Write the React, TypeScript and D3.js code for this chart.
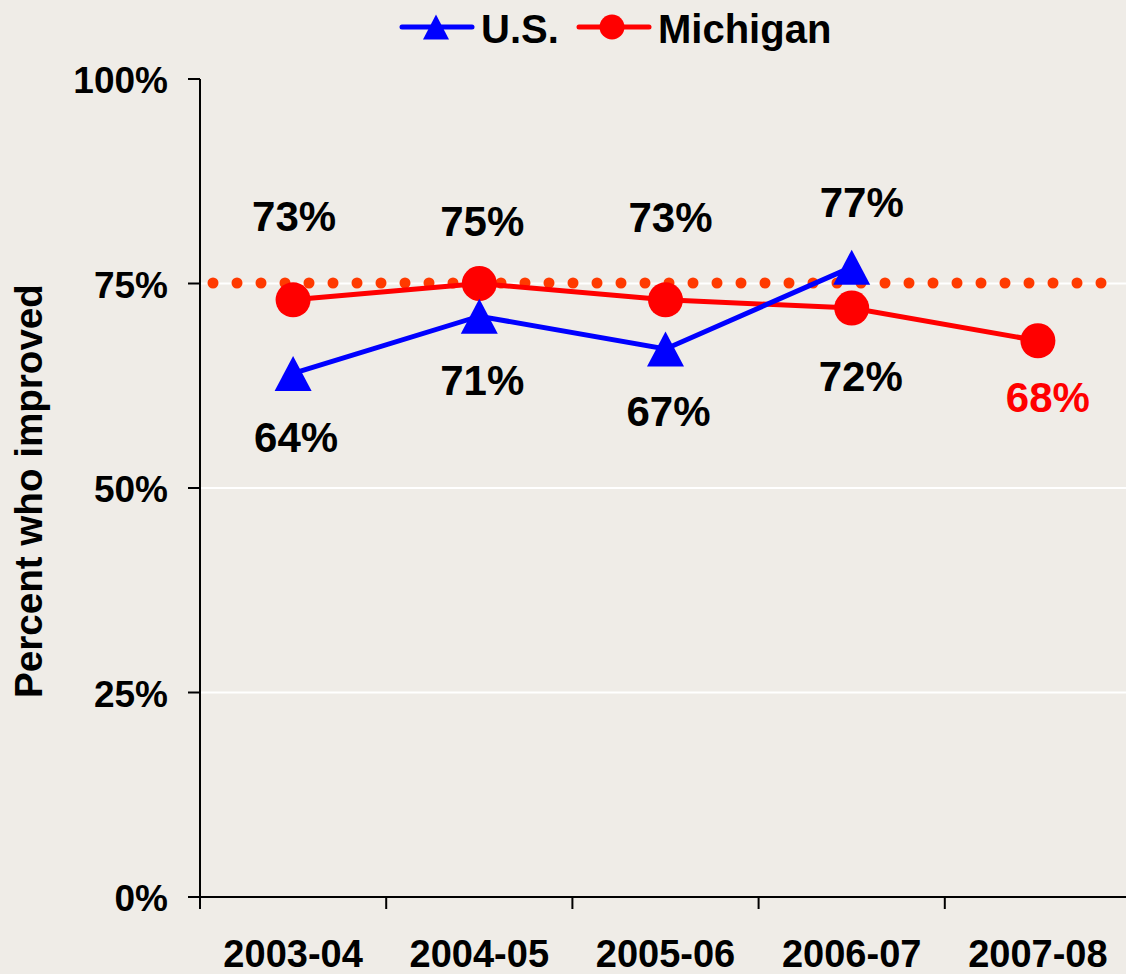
import React from "react";
import * as d3 from "d3";

const categories = ["2003-04", "2004-05", "2005-06", "2006-07", "2007-08"];
const usValues = [64, 71, 67, 77];
const michiganValues = [73, 75, 73, 72, 68];
const targetValue = 75;
const yTicks = [0, 25, 50, 75, 100];
// label vertical offsets from point (px)
const usLabelDy = [79, 79, 77, -50];
const miLabelDy = [-69, -48, -68, 83, 71];
const miLabelDx = [1, 3, 5, 9, 10];
const usLabelDx = [3, 3, 3, 10];

const W = 1126;
const H = 974;
const FONT = "'Liberation Sans', Arial, Helvetica, sans-serif";
const BG = "#EFECE7";
const BLUE = "#0000FF";
const RED = "#FF0000";
const DOT = "#FF3A00";

export default function App() {
  const x = d3.scaleBand<string>().domain(categories).range([200, 1131]).padding(0);
  const y = d3.scaleLinear().domain([0, 100]).range([897, 79]);
  const cx = (i: number) => (x(categories[i]) as number) + x.bandwidth() / 2;

  const line = d3
    .line<number>()
    .x((_, i) => cx(i))
    .y((d) => y(d));

  const tri = (px: number, py: number, w: number, h: number) =>
    `M${px},${py - h / 2}L${px + w / 2},${py + h / 2}L${px - w / 2},${py + h / 2}Z`;

  return (
    <svg
      width={W}
      height={H}
      style={{ position: "absolute", left: 0, top: 0, background: BG }}
      fontFamily={FONT}
    >
      <rect x={0} y={0} width={W} height={H} fill={BG} />
      {/* gridlines */}
      {yTicks
        .filter((t) => t > 0 && t < 100)
        .map((t) => (
          <line key={"g" + t} x1={200} x2={W} y1={y(t)} y2={y(t)} stroke="#FFFFFF" strokeWidth={2} />
        ))}
      {/* axes */}
      <line x1={200} x2={200} y1={y(100)} y2={y(0)} stroke="#000" strokeWidth={2} />
      <line x1={188} x2={W} y1={y(0)} y2={y(0)} stroke="#000" strokeWidth={2} />
      {yTicks.map((t) => (
        <g key={"yt" + t}>
          <line x1={188} x2={200} y1={y(t)} y2={y(t)} stroke="#000" strokeWidth={2} />
          <text x={168} y={y(t) + 14} textAnchor="end" fontSize={37} fontWeight="bold" fill="#000">
            {t}%
          </text>
        </g>
      ))}
      {categories.map((c, i) => (
        <g key={"xt" + c}>
          <line
            x1={x(c) as number}
            x2={x(c) as number}
            y1={y(0)}
            y2={y(0) + 12}
            stroke="#000"
            strokeWidth={2}
          />
          <text x={cx(i)} y={967} textAnchor="middle" fontSize={38} fontWeight="bold" fill="#000">
            {c}
          </text>
        </g>
      ))}
      {/* y axis title */}
      <text
        transform={`translate(42, 491) rotate(-90)`}
        textAnchor="middle"
        fontSize={38.6}
        fontWeight="bold"
        fill="#000"
      >
        Percent who improved
      </text>
      {/* target dotted line */}
      <line
        x1={213}
        x2={1103}
        y1={y(targetValue) - 0.5}
        y2={y(targetValue) - 0.5}
        stroke={DOT}
        strokeWidth={11}
        strokeLinecap="round"
        strokeDasharray="0 24"
      />
      {/* Michigan line */}
      <path d={line(michiganValues) || ""} fill="none" stroke={RED} strokeWidth={5} />
      {/* US line */}
      <path d={line(usValues) || ""} fill="none" stroke={BLUE} strokeWidth={5} />
      {michiganValues.map((v, i) => (
        <circle key={"mc" + i} cx={cx(i)} cy={y(v)} r={17.5} fill={RED} />
      ))}
      {usValues.map((v, i) => (
        <path key={"ut" + i} d={tri(cx(i), y(v), 37, 35)} fill={BLUE} />
      ))}
      {/* labels */}
      {michiganValues.map((v, i) => (
        <text
          key={"ml" + i}
          x={cx(i) + miLabelDx[i]}
          y={y(v) + miLabelDy[i]}
          textAnchor="middle"
          fontSize={42}
          fontWeight="bold"
          fill={i === michiganValues.length - 1 ? RED : "#000"}
        >
          {v}%
        </text>
      ))}
      {usValues.map((v, i) => (
        <text
          key={"ul" + i}
          x={cx(i) + usLabelDx[i]}
          y={y(v) + usLabelDy[i]}
          textAnchor="middle"
          fontSize={42}
          fontWeight="bold"
          fill="#000"
        >
          {v}%
        </text>
      ))}
      {/* legend */}
      <line x1={402} x2={472} y1={27} y2={27} stroke={BLUE} strokeWidth={5} strokeLinecap="round" />
      <path d={tri(436, 27, 26, 25)} fill={BLUE} />
      <text x={481} y={43} fontSize={40} fontWeight="bold" fill="#000">
        U.S.
      </text>
      <line x1={579} x2={649} y1={27} y2={27} stroke={RED} strokeWidth={5} strokeLinecap="round" />
      <circle cx={612} cy={27} r={12.5} fill={RED} />
      <text x={658} y={43} fontSize={40} fontWeight="bold" fill="#000">
        Michigan
      </text>
    </svg>
  );
}
